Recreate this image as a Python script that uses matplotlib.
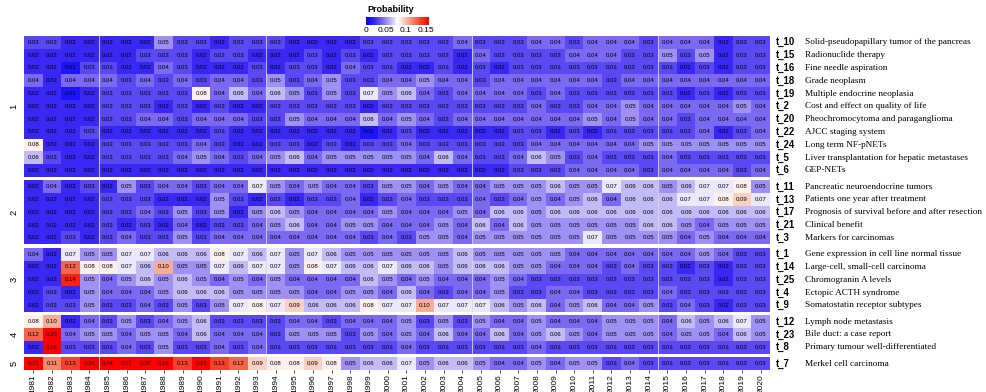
import numpy as np
import matplotlib
matplotlib.use('Agg')
import matplotlib.pyplot as plt
from matplotlib.colors import LinearSegmentedColormap, Normalize

# --------------------- data ---------------------
years = ['1981', '1982', '1983', '1984', '1985', '1986', '1987', '1988', '1989', '1990',
         '1991', '1992', '1993', '1994', '1995', '1996', '1997', '1998', '1999', '2000',
         '2001', '2002', '2003', '2004', '2005', '2006', '2007', '2008', '2009', '2010',
         '2011', '2012', '2013', '2014', '2015', '2016', '2017', '2018', '2019', '2020']

topics = ['t_10', 't_15', 't_16', 't_18', 't_19', 't_2', 't_20', 't_22', 't_24', 't_5', 't_6',
          't_11', 't_13', 't_17', 't_21', 't_3',
          't_1', 't_14', 't_25', 't_4', 't_9',
          't_12', 't_23', 't_8',
          't_7']

topic_names = ['Solid-pseudopapillary tumor of the pancreas', 'Radionuclide therapy',
               'Fine needle aspiration', 'Grade neoplasm', 'Multiple endocrine neoplasia',
               'Cost and effect on quality of life', 'Pheochromocytoma and paraganglioma',
               'AJCC staging system', 'Long term NF-pNETs',
               'Liver transplantation for hepatic metastases', 'GEP-NETs',
               'Pancreatic neuroendocrine tumors', 'Patients one year after treatment',
               'Prognosis of survival before and after resection', 'Clinical benefit',
               'Markers for carcinomas',
               'Gene expression in cell line normal tissue', 'Large-cell, small-cell carcinoma',
               'Chromogranin A levels', 'Ectopic ACTH syndrome', 'Somatostatin receptor subtypes',
               'Lymph node metastasis', 'Bile duct: a case report',
               'Primary tumour well-differentiated',
               'Merkel cell carcinoma']

cluster_names = ['1', '2', '3', '4', '5']
cluster_sizes = [11, 5, 5, 3, 1]

prob = [
    # cluster 1
    [0.03,0.03,0.02,0.02,0.02,0.02,0.02,0.05,0.03, 0.03,0.02,0.03,0.03,0.03,0.02,0.02,0.02,0.02,0.03,
     0.03,0.03,0.03,0.03,0.04,0.03,0.03,0.03,0.04,0.04, 0.03,0.04,0.04,0.04,0.03,0.04,0.04,0.04,0.02,0.03,0.03],
    [0.02,0.02,0.02,0.02,0.02,0.02,0.03,0.03,0.03, 0.02,0.03,0.03,0.02,0.02,0.02,0.03,0.02,0.03,0.02,
     0.03,0.03,0.03,0.03,0.02,0.04,0.03,0.03,0.03,0.03, 0.04,0.04,0.04,0.03,0.03,0.05,0.03,0.05,0.02,0.03,0.03],
    [0.02,0.02,0.01,0.03,0.03,0.02,0.02,0.04,0.03, 0.02,0.02,0.02,0.03,0.02,0.03,0.03,0.02,0.04,0.03,
     0.03,0.02,0.02,0.03,0.02,0.03,0.02,0.03,0.03,0.03, 0.03,0.03,0.03,0.03,0.03,0.03,0.02,0.03,0.02,0.03,0.03],
    [0.04,0.02,0.04,0.04,0.04,0.03,0.04,0.03,0.04, 0.03,0.04,0.04,0.03,0.05,0.03,0.04,0.05,0.03,0.03,
     0.04,0.04,0.05,0.04,0.04,0.03,0.04,0.04,0.04,0.04, 0.04,0.04,0.03,0.04,0.04,0.04,0.04,0.04,0.04,0.04,0.04],
    [0.02,0.02,0.01,0.02,0.03,0.03,0.03,0.03,0.03, 0.08,0.04,0.06,0.04,0.06,0.05,0.03,0.05,0.03,0.07,
     0.05,0.06,0.04,0.03,0.04,0.04,0.04,0.04,0.03,0.04, 0.03,0.03,0.03,0.03,0.03,0.03,0.02,0.03,0.02,0.03,0.03],
    [0.02,0.02,0.02,0.02,0.03,0.03,0.03,0.02,0.03, 0.02,0.03,0.02,0.02,0.03,0.03,0.03,0.03,0.03,0.02,
     0.03,0.03,0.03,0.03,0.03,0.03,0.03,0.03,0.04,0.03, 0.03,0.04,0.04,0.05,0.04,0.04,0.04,0.04,0.04,0.05,0.04],
    [0.02,0.02,0.02,0.02,0.03,0.03,0.04,0.04,0.03, 0.04,0.04,0.04,0.03,0.03,0.05,0.04,0.04,0.04,0.06,
     0.04,0.05,0.04,0.03,0.04,0.04,0.04,0.04,0.04,0.04, 0.04,0.05,0.04,0.05,0.04,0.04,0.03,0.04,0.04,0.04,0.04],
    [0.02,0.02,0.02,0.03,0.02,0.02,0.02,0.02,0.02, 0.02,0.03,0.02,0.02,0.02,0.02,0.02,0.02,0.02,0.01,
     0.02,0.03,0.02,0.02,0.02,0.02,0.02,0.03,0.03,0.02, 0.03,0.02,0.03,0.03,0.03,0.03,0.03,0.04,0.02,0.03,0.04],
    [0.08,0.02,0.02,0.02,0.03,0.03,0.03,0.03,0.03, 0.04,0.03,0.02,0.02,0.03,0.03,0.02,0.03,0.02,0.03,
     0.03,0.04,0.03,0.03,0.03,0.03,0.03,0.03,0.04,0.04, 0.04,0.04,0.04,0.04,0.05,0.05,0.05,0.05,0.05,0.05,0.05],
    [0.06,0.03,0.02,0.02,0.03,0.03,0.03,0.03,0.04, 0.05,0.04,0.03,0.04,0.05,0.06,0.04,0.05,0.05,0.05,
     0.05,0.05,0.04,0.06,0.04,0.03,0.03,0.04,0.06,0.05, 0.03,0.04,0.03,0.03,0.03,0.04,0.03,0.03,0.03,0.03,0.03],
    [0.02,0.02,0.02,0.02,0.02,0.02,0.02,0.02,0.02, 0.02,0.02,0.02,0.02,0.02,0.02,0.02,0.02,0.02,0.02,
     0.02,0.02,0.02,0.02,0.02,0.02,0.02,0.03,0.03,0.03, 0.04,0.04,0.04,0.04,0.03,0.04,0.04,0.04,0.04,0.03,0.04],
    # cluster 2
    [0.02,0.04,0.02,0.03,0.02,0.05,0.03,0.04,0.04, 0.03,0.04,0.04,0.07,0.05,0.04,0.05,0.04,0.04,0.03,
     0.05,0.05,0.04,0.05,0.04,0.04,0.05,0.05,0.05,0.06, 0.05,0.05,0.07,0.06,0.06,0.05,0.06,0.07,0.07,0.08,0.05],
    [0.02,0.02,0.02,0.02,0.03,0.03,0.03,0.02,0.02, 0.02,0.05,0.03,0.02,0.03,0.02,0.03,0.03,0.04,0.02,
     0.03,0.04,0.03,0.03,0.03,0.04,0.03,0.04,0.05,0.04, 0.05,0.06,0.04,0.06,0.06,0.06,0.07,0.07,0.08,0.09,0.07],
    [0.02,0.02,0.02,0.02,0.03,0.03,0.04,0.03,0.05, 0.03,0.05,0.02,0.05,0.06,0.05,0.04,0.04,0.04,0.04,
     0.05,0.04,0.04,0.04,0.05,0.04,0.06,0.06,0.05,0.06, 0.06,0.06,0.06,0.06,0.06,0.06,0.06,0.06,0.06,0.06,0.06],
    [0.02,0.02,0.02,0.02,0.03,0.02,0.03,0.02,0.04, 0.02,0.03,0.03,0.04,0.05,0.06,0.04,0.04,0.05,0.05,
     0.04,0.04,0.04,0.05,0.04,0.06,0.04,0.06,0.05,0.05, 0.05,0.05,0.05,0.05,0.06,0.06,0.05,0.04,0.05,0.05,0.05],
    [0.02,0.02,0.03,0.02,0.03,0.04,0.03,0.03,0.05, 0.03,0.04,0.04,0.04,0.04,0.04,0.04,0.04,0.04,0.03,
     0.04,0.03,0.05,0.05,0.04,0.05,0.05,0.05,0.05,0.05, 0.05,0.07,0.05,0.05,0.05,0.05,0.04,0.05,0.04,0.04,0.04],
    # cluster 3
    [0.04,0.02,0.07,0.05,0.05,0.07,0.07,0.06,0.06, 0.06,0.08,0.07,0.06,0.07,0.05,0.07,0.06,0.05,0.05,
     0.05,0.05,0.05,0.05,0.06,0.05,0.05,0.05,0.05,0.05, 0.04,0.04,0.04,0.04,0.04,0.04,0.04,0.05,0.04,0.03,0.03],
    [0.02,0.02,0.12,0.08,0.08,0.07,0.06,0.10,0.05, 0.05,0.07,0.06,0.07,0.07,0.05,0.08,0.07,0.06,0.06,
     0.07,0.06,0.06,0.05,0.06,0.06,0.06,0.05,0.05,0.04, 0.04,0.04,0.03,0.04,0.03,0.03,0.02,0.03,0.02,0.03,0.03],
    [0.02,0.02,0.14,0.05,0.04,0.05,0.06,0.05,0.06, 0.05,0.04,0.05,0.04,0.05,0.04,0.04,0.04,0.04,0.06,
     0.05,0.04,0.05,0.04,0.04,0.04,0.05,0.04,0.03,0.03, 0.03,0.03,0.03,0.03,0.03,0.03,0.03,0.03,0.02,0.03,0.03],
    [0.02,0.03,0.02,0.05,0.04,0.04,0.04,0.05,0.06, 0.06,0.06,0.05,0.05,0.05,0.05,0.04,0.04,0.05,0.05,
     0.04,0.06,0.04,0.03,0.04,0.04,0.05,0.03,0.03,0.04, 0.04,0.03,0.03,0.03,0.03,0.04,0.03,0.03,0.03,0.03,0.03],
    [0.02,0.03,0.03,0.05,0.03,0.03,0.04,0.03,0.05, 0.03,0.05,0.07,0.08,0.07,0.09,0.06,0.06,0.06,0.08,
     0.07,0.07,0.10,0.07,0.07,0.07,0.06,0.05,0.06,0.04, 0.05,0.06,0.04,0.04,0.05,0.03,0.04,0.03,0.02,0.03,0.03],
    # cluster 4
    [0.08,0.10,0.02,0.04,0.03,0.05,0.03,0.04,0.05, 0.06,0.03,0.03,0.03,0.03,0.04,0.04,0.03,0.04,0.04,
     0.04,0.05,0.03,0.05,0.03,0.05,0.04,0.04,0.05,0.04, 0.04,0.04,0.05,0.05,0.05,0.04,0.06,0.05,0.06,0.07,0.05],
    [0.12,0.20,0.04,0.05,0.05,0.04,0.05,0.05,0.04, 0.06,0.04,0.04,0.04,0.03,0.05,0.05,0.05,0.03,0.05,
     0.04,0.05,0.04,0.06,0.04,0.04,0.06,0.04,0.05,0.06, 0.05,0.04,0.05,0.05,0.05,0.04,0.05,0.05,0.04,0.06,0.05],
    [0.02,0.16,0.03,0.03,0.03,0.04,0.03,0.05,0.03, 0.03,0.04,0.03,0.04,0.03,0.03,0.03,0.03,0.03,0.03,
     0.03,0.04,0.03,0.03,0.03,0.03,0.03,0.03,0.04,0.03, 0.03,0.03,0.03,0.03,0.03,0.03,0.03,0.03,0.03,0.03,0.03],
    # cluster 5
    [0.21,0.11,0.13,0.20,0.24,0.17,0.20,0.16,0.13, 0.15,0.13,0.12,0.09,0.08,0.08,0.09,0.08,0.05,0.06,
     0.06,0.07,0.05,0.06,0.06,0.05,0.04,0.04,0.05,0.04, 0.05,0.05,0.03,0.04,0.03,0.03,0.03,0.03,0.03,0.03,0.03],
]

# --------------------- colours ---------------------
# blue -> white -> red, with a slight violet tint on the blue side
cmap = LinearSegmentedColormap.from_list('prob', [
    (0.0, '#0000ff'), (0.13, '#3827f5'), (0.27, '#7d6bf2'), (0.4, '#c3bbf5'),
    (0.5, '#ffffff'), (0.6, '#fbd0c4'), (0.73, '#f48a6c'), (0.87, '#f5402a'),
    (1.0, '#ff0000')])
norm = Normalize(vmin=0, vmax=0.15)

f_cell = 4.3
f_lab = 6.7

W, H = 987, 392
fig = plt.figure(figsize=(W / 100, H / 100), dpi=100)

left, right = 24 / W, 770 / W
top, bottom = 1 - 36 / H, 1 - 370 / H
gs = fig.add_gridspec(len(cluster_sizes), 1, height_ratios=cluster_sizes,
                      left=left, right=right, top=top, bottom=bottom, hspace=0.055)

data = np.array(prob)
col_breaks = [4, 13, 24, 34]   # thin separators between year blocks

start = 0
for g, size in enumerate(cluster_sizes):
    ax = fig.add_subplot(gs[g])
    block = data[start:start + size]
    ax.imshow(block, cmap=cmap, norm=norm, aspect='auto', interpolation='nearest')
    for i in range(size):
        for j in range(len(years)):
            ax.text(j, i, '%.2f' % block[i, j], ha='center', va='center',
                    fontsize=f_cell, family='Liberation Sans', color='black')
    for b in col_breaks:
        ax.axvline(b - 0.5, color='#d8d8e0', lw=0.6)
    ax.set_yticks([])
    for s in ax.spines.values():
        s.set_visible(False)
    if g == len(cluster_sizes) - 1:
        ax.set_xticks(range(len(years)))
        ax.set_xticklabels(years, rotation=90, fontsize=6, family='Liberation Sans')
        ax.tick_params(axis='x', length=2, pad=1, width=0.5)
    else:
        ax.set_xticks([])
    # row labels on the right
    for i in range(size):
        ax.text(39.8, i, topics[start + i], ha='left', va='center', fontsize=f_lab + 0.2,
                fontweight='bold', family='Liberation Sans')
        ax.text(41.35, i, topic_names[start + i], ha='left', va='center', fontsize=f_lab,
                family='Liberation Serif')
    ax.set_ylabel(cluster_names[g], fontsize=f_lab, family='Liberation Sans', labelpad=4)
    start += size

# --------------------- legend ---------------------
fig.text(367 / W, 1 - 9 / H, 'Probability', fontsize=6.5, fontweight='bold',
         family='Liberation Sans', va='center', ha='left')
cax = fig.add_axes([366 / W, 1 - 25 / H, 62 / W, 8 / H])
cax.imshow(np.linspace(0, 0.15, 256)[None, :], cmap=cmap, norm=norm, aspect='auto',
           extent=[0, 0.15, 0, 1])
cax.set_xticks([])
cax.set_yticks([])
for s in cax.spines.values():
    s.set_visible(False)
for v, lab in zip([0, 0.05, 0.1, 0.15], ['0', '0.05', '0.1', '0.15']):
    fig.text(366 / W + v / 0.15 * 60 / W, 1 - 31 / H, lab, fontsize=6,
             family='Liberation Sans', ha='center', va='center')

plt.savefig('out.png', dpi=100)
